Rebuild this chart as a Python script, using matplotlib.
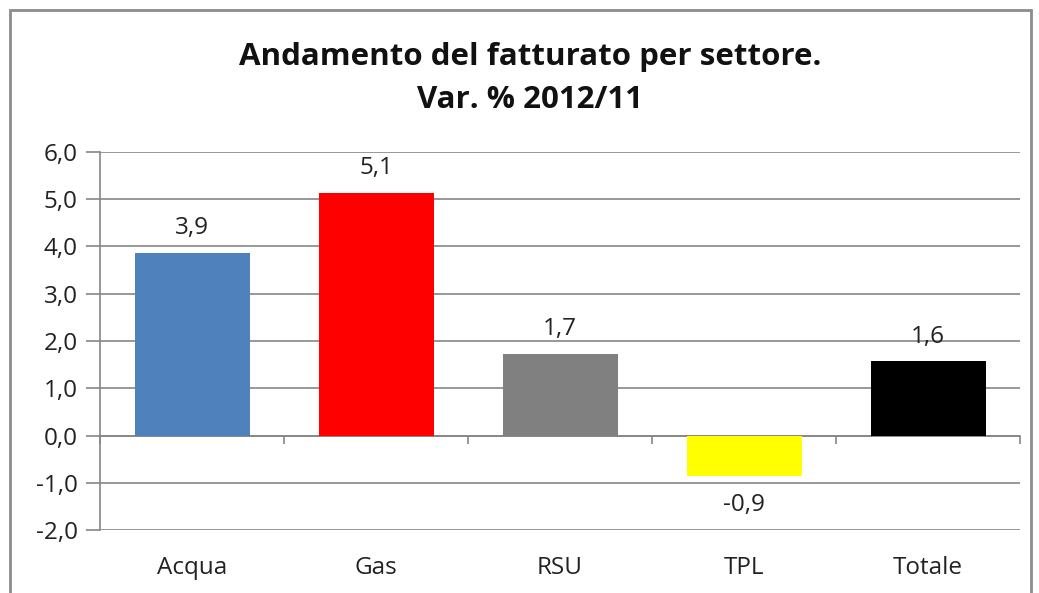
import matplotlib
matplotlib.use("Agg")
import matplotlib.pyplot as plt
from matplotlib.patches import Rectangle

categories = ["Acqua", "Gas", "RSU", "TPL", "Totale"]
values = [3.87, 5.14, 1.73, -0.86, 1.57]
colors = ["#4F81BD", "#FF0000", "#808080", "#FFFF00", "#000000"]
yticks = [-2, -1, 0, 1, 2, 3, 4, 5, 6]
title_lines = ["Andamento del fatturato per settore.", "Var. % 2012/11"]

plt.rcParams['font.family'] = ['Open Sans', 'DejaVu Sans']

W, H = 1039, 593
fig = plt.figure(figsize=(W / 100, H / 100), dpi=100)
fig.patch.set_facecolor("white")

# outer chart border
fig.add_artist(Rectangle((10 / W, -0.05), (1031 - 10) / W, (H - 10) / H + 0.05,
                         transform=fig.transFigure, fill=False,
                         edgecolor="#8C8C8C", linewidth=2))

ax = fig.add_axes([100 / W, (H - 530) / H, (1020 - 100) / W, (530 - 152) / H])
grid_c = "#868686"
txt_c = "#222222"
fs = 17.5
x = list(range(len(categories)))
ax.bar(x, values, width=0.625, color=colors, zorder=3)
ax.set_xlim(-0.5, len(categories) - 0.5)
ax.set_ylim(-2, 6)
ax.set_yticks(yticks)
ax.set_yticklabels([f"{v:.1f}".replace(".", ",") for v in yticks])
ax.yaxis.grid(True, color=grid_c, linewidth=1.2, zorder=0)
ax.set_axisbelow(True)
ax.set_xticks(x)
ax.set_xticklabels(categories)
ax.tick_params(axis="x", length=0, pad=19, labelsize=fs, colors=txt_c)
ax.tick_params(axis="y", length=10, width=1.2, color=grid_c, pad=6,
               labelsize=fs, labelcolor=txt_c)
for s in ["top", "right", "bottom"]:
    ax.spines[s].set_visible(False)
ax.spines["left"].set_color(grid_c)
ax.spines["left"].set_linewidth(1.2)

# category axis crossing at zero with boundary ticks
sec = ax.secondary_xaxis(0.25)
sec.set_xticks([i - 0.5 for i in range(len(categories) + 1)])
sec.set_xticklabels([])
sec.tick_params(axis="x", direction="out", length=6, width=1.2, color=grid_c)
sec.spines["bottom"].set_color(grid_c)
sec.spines["bottom"].set_linewidth(1.2)

for xi, v in zip(x, values):
    lbl = f"{round(v, 1):.1f}".replace(".", ",")
    if v >= 0:
        ax.annotate(lbl, (xi, v), xytext=(0, 9), textcoords="offset points",
                    ha="center", va="bottom", fontsize=fs, color=txt_c)
    else:
        ax.annotate(lbl, (xi, v), xytext=(0, -12), textcoords="offset points",
                    ha="center", va="top", fontsize=fs, color=txt_c)

cx = 530 / W
for line, yc in zip(title_lines, [57, 100]):
    fig.text(cx, (H - yc) / H, line, ha="center", va="center",
             fontsize=22.5, fontweight="bold", color="#111111")

fig.savefig("out.png", dpi=100)
